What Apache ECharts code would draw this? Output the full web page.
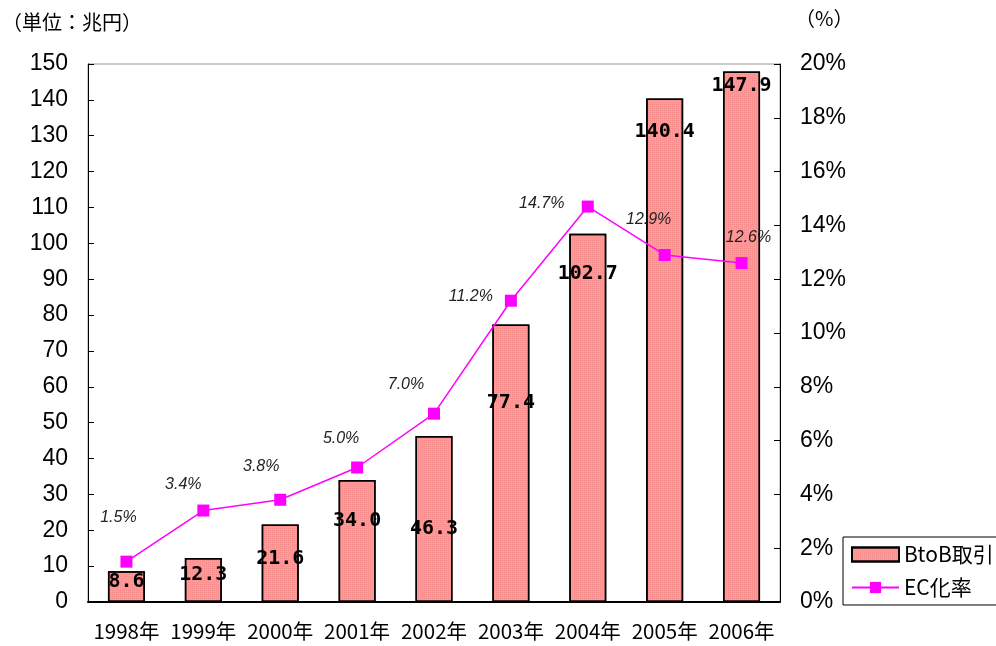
<!DOCTYPE html>
<html><head><meta charset="utf-8">
<script src="https://cdn.jsdelivr.net/npm/echarts@6/dist/echarts.min.js"></script>
<style>html,body{margin:0;padding:0;background:#fff;}#c{width:996px;height:646px;}</style>
</head><body><div id="c"></div>
<script>
const categories = ['1998年','1999年','2000年','2001年','2002年','2003年','2004年','2005年','2006年'];
const btobValues = [8.6, 12.3, 21.6, 34.0, 46.3, 77.4, 102.7, 140.4, 147.9];
const ecRates = [1.5, 3.4, 3.8, 5.0, 7.0, 11.2, 14.7, 12.9, 12.6];
const leftTicks = {min: 0, max: 150, interval: 10};
const rightTicks = {min: 0, max: 20, interval: 2};

// label placement (style only)
const barLabelDy = [11, 17, 34, 41, 93, 78, 40, 33, 14];
const lineLabelOffset = [[-8,-44],[-20,-26],[-19,-33],[-16,-29],[-28,-29],[-40,-4],[-46,-3],[-16,-35],[7,-26]];

const chart = echarts.init(document.getElementById('c'), null, {renderer: 'canvas'});
const numFont = 'Liberation Sans, Arial, sans-serif';
const jpFont = '"Noto Sans CJK JP", sans-serif';

const barData = btobValues.map((v, i) => ({
  value: v,
  label: {position: ['50%', barLabelDy[i]]}
}));
const lineData = ecRates.map((v, i) => ({
  value: v,
  label: {offset: lineLabelOffset[i]}
}));

chart.setOption({
  animation: false,
  backgroundColor: '#fff',
  grid: {left: 88, right: 216, top: 64, bottom: 44, show: true, borderColor: '#999', borderWidth: 1},
  graphic: [
    {type: 'text', left: 2, top: 12, style: {text: '（単位：兆円）', font: '20px ' + jpFont, fill: '#000'}},
    {type: 'text', left: 795, top: 8, style: {text: '（%）', font: '20px ' + jpFont, fill: '#000'}}
  ],
  legend: {
    left: 843, top: 537, orient: 'vertical',
    padding: [7, 30, 7, 8], itemGap: 12,
    itemWidth: 47, itemHeight: 14,
    borderColor: '#000', borderWidth: 1,
    textStyle: {fontFamily: jpFont, fontSize: 21, color: '#000'},
    data: [{name: 'BtoB取引', icon: 'rect'}, {name: 'EC化率'}]
  },
  xAxis: {
    type: 'category', data: categories, boundaryGap: true,
    axisLine: {lineStyle: {color: '#000', width: 2}},
    axisTick: {inside: true, length: 6, lineStyle: {color: '#000'}},
    axisLabel: {interval: 0, fontFamily: jpFont, fontSize: 20.5, color: '#000', margin: 19}
  },
  yAxis: [
    {
      type: 'value', min: leftTicks.min, max: leftTicks.max, interval: leftTicks.interval,
      axisLine: {show: true, lineStyle: {color: '#000'}},
      axisTick: {show: true, inside: true, length: 6, lineStyle: {color: '#000'}},
      splitLine: {show: false},
      axisLabel: {fontFamily: numFont, fontSize: 23, color: '#000', margin: 20}
    },
    {
      type: 'value', min: rightTicks.min, max: rightTicks.max, interval: rightTicks.interval,
      position: 'right',
      axisLine: {show: true, lineStyle: {color: '#000'}},
      axisTick: {show: true, inside: true, length: 6, lineStyle: {color: '#000'}},
      splitLine: {show: false},
      axisLabel: {fontFamily: numFont, fontSize: 23, color: '#000', margin: 20, formatter: '{value}%'}
    }
  ],
  series: [
    {
      name: 'BtoB取引', type: 'bar', yAxisIndex: 0, barWidth: 37,
      data: barData,
      itemStyle: {
        color: '#FF9A9A', borderColor: '#000', borderWidth: 1.5,
        decal: {symbol: 'rect', symbolSize: 1, dashArrayX: [1, 1], dashArrayY: [1, 1], color: 'rgba(230,120,120,0.45)'}
      },
      label: {
        show: true, align: 'center', verticalAlign: 'middle',
        fontFamily: '"DejaVu Sans Mono", monospace', fontWeight: 'bold', fontSize: 20, color: '#000',
        formatter: p => p.value.toFixed(1)
      },
      z: 2
    },
    {
      name: 'EC化率', type: 'line', yAxisIndex: 1,
      data: lineData,
      symbol: 'rect', symbolSize: 12,
      lineStyle: {color: '#FF00FF', width: 1.5},
      itemStyle: {color: '#FF00FF'},
      label: {
        show: true, position: 'inside',
        fontFamily: numFont, fontStyle: 'italic', fontSize: 16, color: '#222',
        formatter: p => p.value.toFixed(1) + '%'
      },
      z: 3
    }
  ]
});
</script></body></html>
